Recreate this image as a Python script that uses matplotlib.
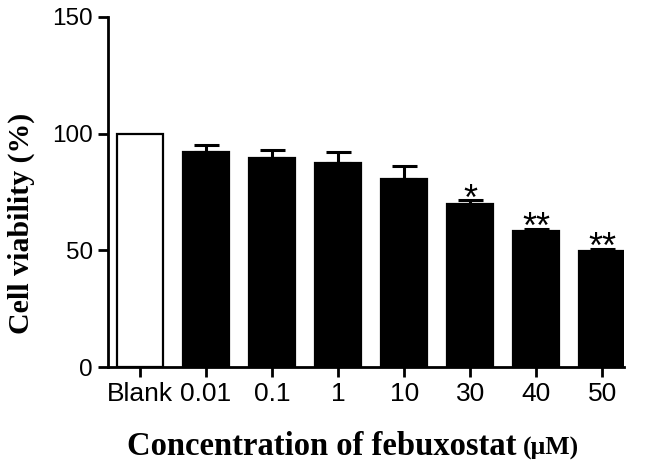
import numpy as np
import matplotlib
matplotlib.use("Agg")
import matplotlib.pyplot as plt

# valores
categorias = ['Blank', '0.01', '0.1', '1', '10', '30', '40', '50']
viabilidade = [100, 92, 89.6, 87.3, 80.6, 70.0, 58.4, 49.7]
erro = [0, 3.0, 3.4, 4.7, 5.7, 1.4, 0.9, 1.0]
signif = ['', '', '', '', '', '*', '**', '**']

plt.rcParams['font.family'] = 'Liberation Sans'

fig = plt.figure(figsize=(6.46, 4.69), dpi=100)
ax = fig.add_axes([108 / 646, 1 - 367 / 469, 516 / 646, 350 / 469])

x = np.arange(len(categorias))
cores = ['white'] + ['black'] * (len(categorias) - 1)
ax.bar(x, viabilidade, width=0.70, color=cores, edgecolor='black', linewidth=1.6, zorder=3)
# barras de erro só para cima
ax.errorbar(x[1:], viabilidade[1:], yerr=[np.zeros(len(erro) - 1), erro[1:]],
            fmt='none', ecolor='black', elinewidth=2.2, capsize=9, capthick=2.2, zorder=2)

for xi, v, e, s in zip(x, viabilidade, erro, signif):
    if s:
        ax.annotate(s, (xi, v + e), xytext=(0, 0), textcoords='offset points',
                    ha='center', va='center', fontsize=26)

ax.set_xlim(-0.485, 7.33)
ax.set_ylim(0, 150)
ax.set_yticks([0, 50, 100, 150])
ax.set_xticks(x)
ax.set_xticklabels(categorias)
ax.tick_params(width=2, length=7, pad=4)
ax.tick_params(axis='x', labelsize=19)
ax.tick_params(axis='y', labelsize=17.5)
for lado in ['top', 'right']:
    ax.spines[lado].set_visible(False)
for lado in ['left', 'bottom']:
    ax.spines[lado].set_linewidth(2)

ax.set_ylabel('Cell viability (%)', family='Liberation Serif', fontweight='bold', fontsize=21.5)
ax.yaxis.set_label_coords(-0.1415, 0.41)

# rótulo do eixo x em duas partes (unidade menor)
t1 = fig.text(127 / 646, 1 - 455 / 469, 'Concentration of febuxostat', family='Liberation Serif',
              fontweight='bold', fontsize=23.5, va='baseline', ha='left')
r = fig.canvas.get_renderer()
bb = t1.get_window_extent(renderer=r)
fig.text((bb.x1 + 6) / 646, 1 - 455 / 469, '(μM)', family='Liberation Serif',
         fontweight='bold', fontsize=18.5, va='baseline', ha='left')

plt.savefig('out.png', dpi=100)
plt.close(fig)
